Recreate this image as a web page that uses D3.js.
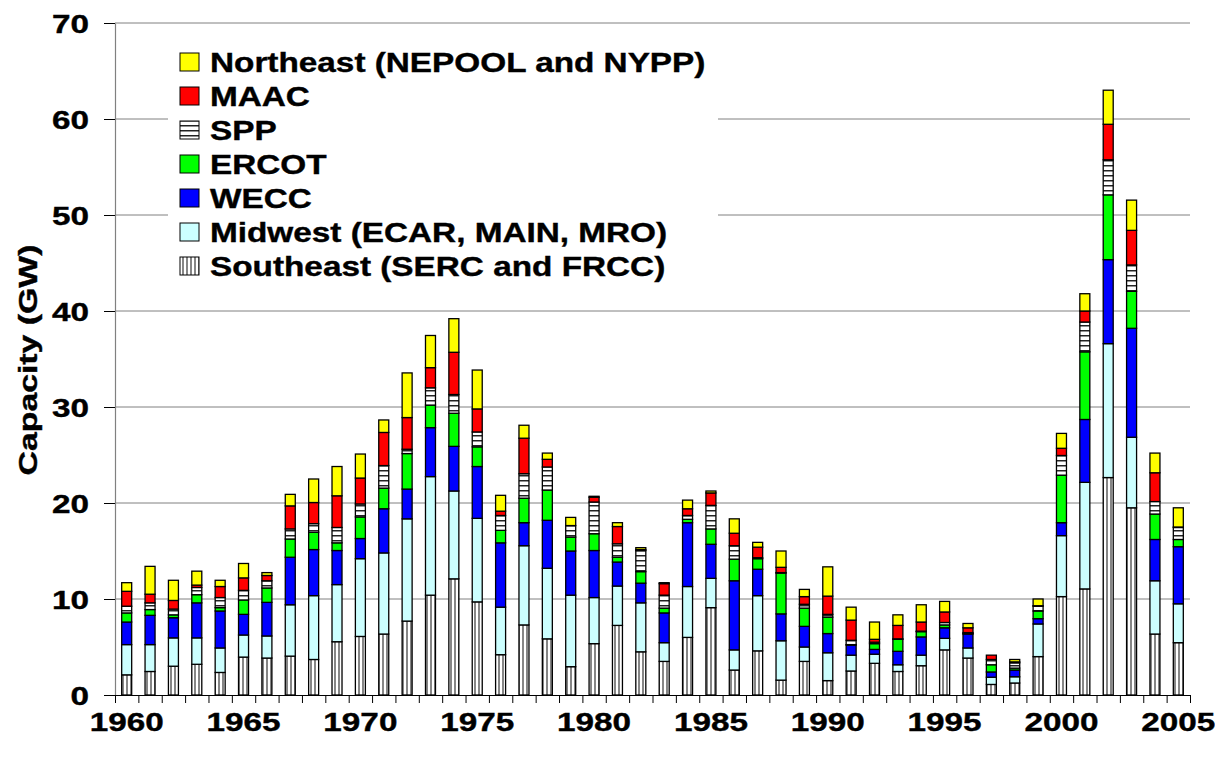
<!DOCTYPE html>
<html>
<head>
<meta charset="utf-8">
<script src="https://cdn.jsdelivr.net/npm/d3@7"></script>
<style>
  body { margin: 0; background: #fff; }
  svg text { font-family: "Liberation Sans", Arial, sans-serif; font-weight: bold; fill: #000; stroke: #000; stroke-width: 0.4px; }
</style>
</head>
<body>
<div id="chart"></div>
<script>
// Capacity additions by region, GW
var years = d3.range(1960, 2006);

var southeast = [2.1, 2.45, 3.0, 3.2, 2.35, 3.95, 3.85, 4.05, 3.7, 5.55,
                 6.1, 6.35, 7.7, 10.4, 12.1, 9.7, 4.2, 7.3, 5.85, 2.95,
                 5.35, 7.25, 4.5, 3.5, 6.0, 9.1, 2.6, 4.6, 1.55, 3.5,
                 1.5, 2.5, 3.3, 2.45, 3.05, 4.7, 3.85, 1.1, 1.25, 4.0,
                 10.25, 11.05, 22.65, 19.5, 6.35, 5.45];
var midwest = [3.15, 2.8, 2.95, 2.75, 2.55, 2.3, 2.3, 5.35, 6.65, 5.95,
               8.1, 8.45, 10.65, 12.35, 9.15, 8.7, 4.95, 8.25, 7.35, 7.45,
               4.8, 4.1, 5.1, 1.95, 5.3, 3.05, 2.1, 5.75, 4.1, 1.5,
               2.9, 1.65, 0.95, 0.7, 1.1, 1.2, 1.05, 0.75, 0.65, 3.4,
               6.35, 11.1, 13.95, 7.35, 5.55, 4.05];
var wecc = [2.35, 3.05, 2.1, 3.65, 3.85, 2.15, 3.5, 4.95, 4.8, 3.55,
            2.1, 4.6, 3.1, 5.1, 4.65, 5.4, 6.7, 2.4, 5.0, 4.6,
            4.9, 2.5, 2.05, 3.1, 6.65, 3.55, 7.2, 2.75, 2.8, 2.15,
            2.0, 1.05, 0.5, 1.4, 1.9, 1.1, 1.45, 0.55, 0.7, 0.55,
            1.35, 6.55, 8.75, 11.35, 4.3, 5.95];
var ercot = [0.95, 0.6, 0.3, 0.85, 0.35, 1.5, 1.5, 1.9, 1.8, 0.8,
             2.25, 2.15, 3.7, 2.35, 3.45, 2.05, 1.3, 2.55, 3.15, 1.45,
             1.75, 0.5, 1.2, 0.5, 0.35, 1.6, 2.25, 1.1, 4.25, 1.9,
             1.7, 0.05, 0.6, 1.25, 0.55, 0.3, 0.05, 0.75, 0.2, 0.8,
             4.95, 7.05, 6.75, 3.85, 2.65, 0.75];
var spp = [0.7, 0.7, 0.6, 0.75, 1.05, 1.0, 0.75, 1.05, 0.9, 1.6,
           1.35, 2.35, 0.45, 1.8, 1.95, 1.55, 1.55, 2.55, 2.4, 1.2,
           3.3, 1.4, 2.2, 1.35, 0.4, 2.45, 1.4, 0.1, 0.05, 0.4,
           0.3, 0.45, 0.15, 0.05, 0.05, 0.25, 0.1, 0.55, 0.55, 0.5,
           2.05, 3.1, 3.65, 2.75, 1.3, 1.25];
var maac = [1.55, 0.9, 0.9, 0.25, 1.15, 1.3, 0.55, 2.4, 2.2, 3.3,
            2.7, 3.45, 3.3, 2.1, 4.4, 2.4, 0.45, 3.7, 0.8, 0.0,
            0.5, 1.8, 0.1, 1.2, 0.7, 1.3, 1.3, 1.1, 0.55, 0.8,
            1.9, 2.1, 0.3, 1.4, 0.95, 1.1, 0.5, 0.45, 0.1, 0.05,
            0.75, 1.15, 3.7, 3.6, 3.0, 0.05];
var northeast = [0.9, 2.9, 2.1, 1.45, 0.65, 1.5, 0.3, 1.2, 2.45, 3.05,
                 2.5, 1.3, 4.65, 3.35, 3.5, 4.05, 1.65, 1.35, 0.65, 0.85,
                 0.1, 0.4, 0.2, 0.1, 0.9, 0.2, 1.5, 0.5, 1.7, 0.75,
                 3.05, 1.35, 1.8, 1.1, 1.8, 1.1, 0.45, 0.0, 0.25, 0.7,
                 1.55, 1.8, 3.55, 3.15, 2.05, 2.0];

var keys = ["se", "mw", "wecc", "ercot", "spp", "maac", "ne"];
var seriesData = { se: southeast, mw: midwest, wecc: wecc, ercot: ercot, spp: spp, maac: maac, ne: northeast };
var labels = {
  ne: "Northeast (NEPOOL and NYPP)", maac: "MAAC", spp: "SPP", ercot: "ERCOT",
  wecc: "WECC", mw: "Midwest (ECAR, MAIN, MRO)", se: "Southeast (SERC and FRCC)"
};
var legendOrder = ["ne", "maac", "spp", "ercot", "wecc", "mw", "se"];
var yTicks = [0, 10, 20, 30, 40, 50, 60, 70];
var xLabelYears = [1960, 1965, 1970, 1975, 1980, 1985, 1990, 1995, 2000, 2005];

var width = 1215, height = 757;
var plotLeft = 115, plotRight = 1190, plotTop = 23, plotBottom = 695;
var barW = 10;
var textStretch = 1.28;

var fills = {
  ne: "#FFFF00", maac: "#FF0000", spp: "url(#hstripe)", ercot: "#00FF00",
  wecc: "#0000FF", mw: "#CCFFFF", se: "url(#vstripe)"
};

var table = years.map(function(yr, i) {
  var row = { year: yr };
  keys.forEach(function(k) { row[k] = seriesData[k][i]; });
  return row;
});

var svg = d3.select("#chart").append("svg")
  .attr("width", width).attr("height", height);

svg.append("rect").attr("width", width).attr("height", height).attr("fill", "#fff");

// patterns for SPP and Southeast
var defs = svg.append("defs");
var hp = defs.append("pattern").attr("id", "hstripe")
  .attr("patternUnits", "userSpaceOnUse").attr("width", 10).attr("height", 5);
hp.append("rect").attr("width", 10).attr("height", 5).attr("fill", "#fff");
hp.append("line").attr("x1", 0).attr("x2", 10).attr("y1", 0.75).attr("y2", 0.75)
  .attr("stroke", "#222").attr("stroke-width", 1.5);
var vp = defs.append("pattern").attr("id", "vstripe")
  .attr("patternUnits", "userSpaceOnUse").attr("width", 4).attr("height", 10);
vp.append("rect").attr("width", 4).attr("height", 10).attr("fill", "#fff");
vp.append("line").attr("x1", 3).attr("x2", 3).attr("y1", 0).attr("y2", 10)
  .attr("stroke", "#444").attr("stroke-width", 1.3);

var x = d3.scaleBand().domain(years).range([plotLeft, plotRight]).padding(0);
var xLin = d3.scaleLinear().domain([0, years.length]).range([plotLeft, plotRight]);
var y = d3.scaleLinear().domain([0, 70]).range([plotBottom, plotTop]);

// gridlines
svg.append("g").selectAll("line")
  .data(yTicks.filter(function(t) { return t > 0; }))
  .enter().append("line")
  .attr("x1", plotLeft).attr("x2", plotRight)
  .attr("y1", function(d) { return y(d); }).attr("y2", function(d) { return y(d); })
  .attr("stroke", "#808080").attr("stroke-width", 1);

// stacked bars
var stack = d3.stack().keys(keys);
var layers = stack(table);

svg.append("g").selectAll("g")
  .data(layers)
  .enter().append("g")
  .attr("fill", function(d) { return fills[d.key]; })
  .selectAll("rect")
  .data(function(d) { return d; })
  .enter().append("rect")
  .attr("x", function(d) { return x(d.data.year) + (x.bandwidth() - barW) / 2; })
  .attr("width", barW)
  .attr("y", function(d) { return y(d[1]); })
  .attr("height", function(d) { return y(d[0]) - y(d[1]); })
  .attr("stroke", "#000").attr("stroke-width", 1.3);

// y axis
var yAxis = svg.append("g").attr("transform", "translate(" + plotLeft + ",0)")
  .call(d3.axisLeft(y).tickValues(yTicks).tickSize(11).tickSizeOuter(0));
yAxis.select(".domain").attr("stroke", "#808080").attr("stroke-width", 1.2);
yAxis.selectAll(".tick line").attr("stroke", "#000");
yAxis.selectAll(".tick text")
  .attr("x", -26 / textStretch).attr("dy", null).attr("y", 9)
  .attr("transform", "scale(" + textStretch + ",1)")
  .style("font-size", "26px");

// x axis: ticks on category boundaries
var xAxis = svg.append("g").attr("transform", "translate(0," + plotBottom + ")")
  .call(d3.axisBottom(xLin).tickValues(d3.range(0, years.length + 1)).tickSize(8).tickFormat("").tickSizeOuter(0));
xAxis.select(".domain").attr("stroke", "#000").attr("stroke-width", 1.2);
xAxis.selectAll(".tick line").attr("stroke", "#000");

svg.append("g").selectAll("text")
  .data(xLabelYears)
  .enter().append("text")
  .attr("transform", function(d) {
    return "translate(" + (x(d) + x.bandwidth() / 2) + "," + (plotBottom + 36) + ") scale(" + textStretch + ",1)";
  })
  .attr("text-anchor", "middle")
  .style("font-size", "26px")
  .text(function(d) { return d; });

// y title
svg.append("text")
  .attr("transform", "translate(37,360) rotate(-90) scale(1.3,1)")
  .attr("text-anchor", "middle")
  .style("font-size", "26px")
  .text("Capacity (GW)");

// legend
var lg = svg.append("g");
lg.append("rect").attr("x", 168).attr("y", 38).attr("width", 550).attr("height", 250).attr("fill", "#fff");
var items = lg.selectAll("g.item").data(legendOrder).enter().append("g")
  .attr("transform", function(d, i) { return "translate(180," + (62 + i * 34) + ")"; });
items.append("rect")
  .attr("x", 0).attr("y", -9).attr("width", 19).attr("height", 18)
  .attr("fill", function(d) { return fills[d]; })
  .attr("stroke", "#000").attr("stroke-width", 1);
items.append("text")
  .attr("transform", "translate(30,10) scale(1.19,1)")
  .style("font-size", "28px")
  .text(function(d) { return labels[d]; });
</script>
</body>
</html>
